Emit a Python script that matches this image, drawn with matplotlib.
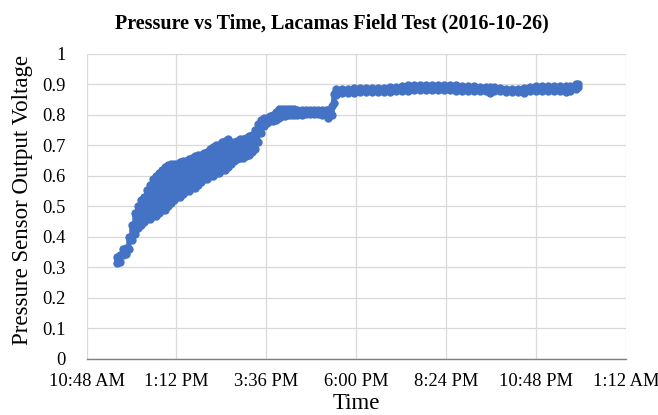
import numpy as np
import matplotlib
matplotlib.use("Agg")
import matplotlib.pyplot as plt
from matplotlib.ticker import FuncFormatter

# readings from the chart: time of day in hours, lower / upper edge of the noisy trace
times = [
    11.61, 11.69, 11.77, 11.85, 11.93, 12.01, 12.09, 12.17, 12.25, 12.33,
    12.41, 12.49, 12.57, 12.65, 12.73, 12.81, 12.89, 12.97, 13.05, 13.13,
    13.21, 13.29, 13.37, 13.45, 13.53, 13.61, 13.69, 13.77, 13.85, 13.93,
    14.01, 14.09, 14.17, 14.25, 14.33, 14.41, 14.49, 14.57, 14.65, 14.73,
    14.81, 14.89, 14.97, 15.05, 15.13, 15.21, 15.29, 15.37, 15.45, 15.53,
    15.61, 15.69, 15.77, 15.85, 15.93, 16.01, 16.09, 16.17, 16.25,
    16.33, 16.43, 16.55, 16.65, 16.76, 16.87, 16.97, 17.08, 17.19, 17.24,
    17.29, 17.35, 17.40, 17.45,
    17.61, 17.77, 17.93, 18.09, 18.25, 18.41, 18.57, 18.73, 18.89, 19.05,
    19.21, 19.37, 19.53, 19.69, 19.85, 20.01, 20.17, 20.33, 20.49, 20.65,
    20.81, 20.97, 21.13, 21.29, 21.45, 21.56, 21.67, 21.83, 21.99, 22.15,
    22.31, 22.47, 22.63, 22.79, 22.95, 23.11, 23.27, 23.43, 23.59, 23.69,
    23.85, 23.91,
]
v_low = [
    .315, .318, .34, .345, .36, .39, .41, .43, .44, .45,
    .46, .46, .47, .47, .48, .49, .49, .50, .51, .52,
    .53, .53, .54, .55, .55, .56, .56, .57, .58, .59,
    .59, .60, .60, .61, .61, .62, .62, .63, .64, .65,
    .655, .66, .66, .665, .67, .68, .69, .71, .74, .765,
    .775, .78, .78, .785, .79, .795, .795, .80, .80,
    .80, .80, .80, .802, .802, .802, .802, .80, .80, .79,
    .80, .80, .84, .865,
    .872, .873, .873, .874, .874, .875, .875, .876, .876, .877,
    .88, .88, .882, .882, .882, .882, .882, .883, .882, .88,
    .88, .88, .879, .878, .877, .872, .878, .877, .876, .876,
    .876, .872, .878, .879, .88, .88, .88, .88, .874, .88,
    .885, .893,
]
v_high = [
    .335, .34, .36, .365, .40, .44, .48, .50, .52, .53,
    .555, .57, .59, .60, .61, .62, .63, .635, .64, .64,
    .64, .645, .65, .65, .655, .66, .665, .67, .67, .675,
    .68, .69, .695, .70, .70, .71, .715, .72, .70, .71,
    .715, .72, .72, .725, .73, .735, .75, .77, .785, .79,
    .79, .795, .80, .81, .82, .82, .82, .82, .82,
    .82, .815, .815, .815, .815, .815, .815, .815, .815, .815,
    .815, .83, .87, .885,
    .886, .886, .887, .887, .887, .888, .889, .89, .892, .893,
    .895, .897, .898, .898, .899, .898, .899, .899, .898, .897,
    .896, .895, .895, .893, .892, .892, .892, .89, .884, .884,
    .885, .888, .893, .894, .894, .895, .895, .895, .895, .896,
    .90, .903,
]
x_ticks = [10.8, 13.2, 15.6, 18.0, 20.4, 22.8, 25.2]
y_ticks = [0, 0.1, 0.2, 0.3, 0.4, 0.5, 0.6, 0.7, 0.8, 0.9, 1]

BLUE = "#4472C4"
SERIF = ["Liberation Serif", "DejaVu Serif"]


def clock(h, _pos=None):
    mins = int(round(h * 60)) % (24 * 60)
    hh, mm = divmod(mins, 60)
    suffix = "AM" if hh < 12 else "PM"
    return f"{hh % 12 or 12}:{mm:02d} {suffix}"


# trace alternates between the lower and upper edge at each reading
x = np.repeat(times, 2)
y = np.column_stack([v_low, v_high]).ravel()

fig = plt.figure(figsize=(6.58, 4.15), dpi=100)
ax = fig.add_axes([0.1315, 0.135, 0.82, 0.735])

ax.plot(x, y, color=BLUE, lw=3.8, marker="o", ms=6.0, mew=0, mfc=BLUE,
        solid_joinstyle="round", solid_capstyle="round", zorder=3)

ax.set_xlim(x_ticks[0], x_ticks[-1])
ax.set_ylim(0, 1)
ax.set_xticks(x_ticks)
ax.set_yticks(y_ticks)
ax.xaxis.set_major_formatter(FuncFormatter(clock))
ax.yaxis.set_major_formatter(FuncFormatter(lambda v, p: f"{v:g}"))
ax.grid(True, color="#D9D9D9", lw=0.9, zorder=0)
ax.set_axisbelow(True)
for s in ["top", "right", "left"]:
    ax.spines[s].set_visible(False)
ax.spines["bottom"].set_color("#7F7F7F")
ax.spines["bottom"].set_linewidth(1.0)
ax.tick_params(length=0, labelsize=13.3)
ax.tick_params(axis="x", pad=10)
ax.tick_params(axis="y", pad=15)
for lab in ax.get_xticklabels() + ax.get_yticklabels():
    lab.set_family(SERIF)

ax.set_xlabel("Time", family=SERIF, fontsize=16.5, labelpad=2)
ax.set_ylabel("Pressure Sensor Output Voltage", family=SERIF, fontsize=16.5, labelpad=4)
ax.yaxis.set_label_coords(-0.10, 0.52)
fig.suptitle("Pressure vs Time, Lacamas Field Test (2016-10-26)", family=SERIF,
             fontsize=14.5, fontweight="bold", x=0.505, y=0.968)

fig.savefig("out.png", dpi=100)
plt.close(fig)
